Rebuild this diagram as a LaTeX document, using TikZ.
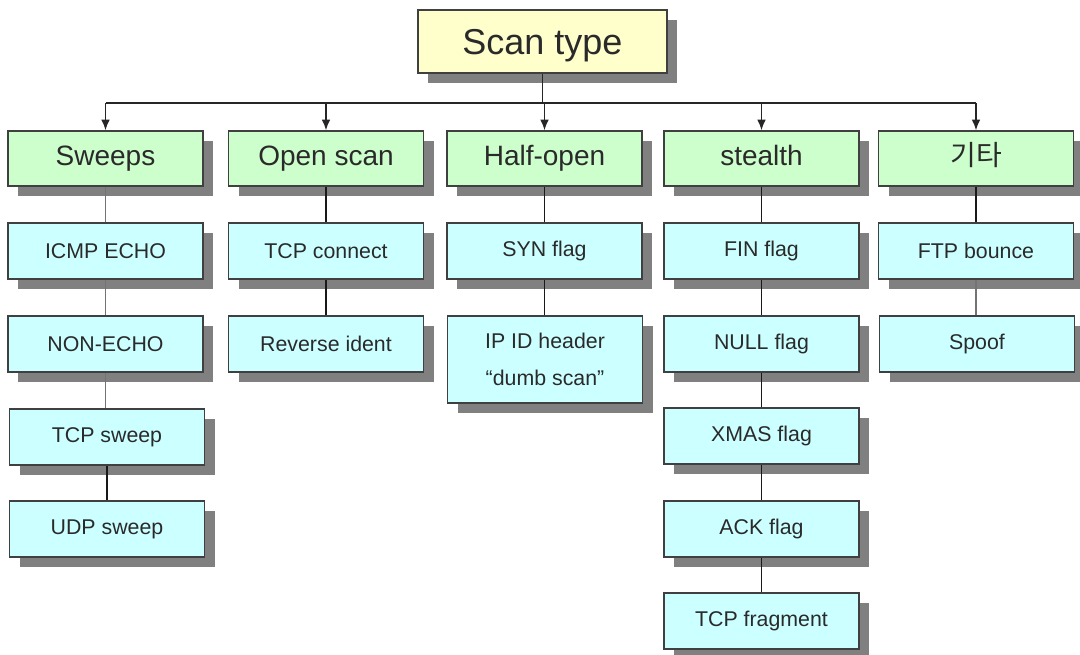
\documentclass[tikz,border=0pt]{standalone}
\usepackage{fontspec}
\setmainfont{Liberation Sans}
\newfontfamily\krfont{Noto Sans CJK KR}
\usetikzlibrary{shadows,arrows.meta}
\definecolor{topfill}{HTML}{FFFFCC}
\definecolor{greenfill}{HTML}{CCFFCC}
\definecolor{cyanfill}{HTML}{CCFFFF}
\definecolor{txt}{HTML}{2A2A2A}
\tikzset{
  basebox/.style={draw=black!75, line width=0.9pt, inner sep=0pt, text=txt,
    drop shadow={shadow xshift=7.5pt, shadow yshift=-7.5pt, opacity=1, fill=black!50}},
  topbox/.style={basebox, fill=topfill, minimum width=186.75pt, minimum height=47.25pt,
    font=\fontsize{27}{32}\selectfont, text height=21pt, text depth=2pt},
  catbox/.style={basebox, fill=greenfill, minimum width=146.25pt, minimum height=41.25pt,
    font=\fontsize{21}{25}\selectfont, text height=15pt, text depth=4.5pt},
  itembox/.style={basebox, fill=cyanfill, minimum width=146.25pt, minimum height=42pt,
    font=\fontsize{16}{28}\selectfont, align=center},
  link/.style={draw=black!90, line width=1pt},
  softlink/.style={draw=black!55, line width=1pt},
  bus/.style={draw=black!85, line width=1.3pt},
  arrowlink/.style={bus, -{Latex[length=8pt, width=6.5pt]}}
}
\begin{document}
\begin{tikzpicture}[x=0.75pt, y=-0.75pt]
\useasboundingbox (0,0) rectangle (1080,655);

% top
\node[topbox] (scan) at (542.5,41.5) {Scan type};

% categories
\node[catbox] (g1) at (105.5,158.5) {Sweeps};
\node[catbox] (g2) at (326,158.5) {Open scan};
\node[catbox] (g3) at (544.5,158.5) {Half-open};
\node[catbox] (g4) at (761.5,158.5) {stealth};
\node[catbox] (g5) at (976,158.5) {\krfont 기타};

% bus
\coordinate (b1) at (105.5,103);
\coordinate (b2) at (326,103);
\coordinate (b3) at (544.5,103);
\coordinate (b4) at (761.5,103);
\coordinate (b5) at (976,103);
\draw[bus] (b1) -- (b5);
\draw[bus] (scan.south) -- (scan.south |- b1);
\draw[arrowlink] (b1) -- (g1.north);
\draw[arrowlink] (b2) -- (g2.north);
\draw[arrowlink] (b3) -- (g3.north);
\draw[arrowlink] (b4) -- (g4.north);
\draw[arrowlink] (b5) -- (g5.north);

% column 1
\node[itembox] (c11) at (105.5,251) {ICMP ECHO};
\node[itembox] (c12) at (105.5,344) {NON-ECHO};
\node[itembox] (c13) at (107,437) {TCP sweep};
\node[itembox] (c14) at (107,529) {UDP sweep};
% column 2
\node[itembox] (c21) at (326,251) {TCP connect};
\node[itembox] (c22) at (326,344) {Reverse ident};
% column 3
\node[itembox] (c31) at (544.5,251) {SYN flag};
\node[itembox, minimum height=65.25pt] (c32) at (545,359.5) {IP ID header\\“dumb scan”};
% column 4
\node[itembox] (c41) at (761.5,251) {FIN flag};
\node[itembox] (c42) at (761.5,344) {NULL flag};
\node[itembox] (c43) at (761.5,436) {XMAS flag};
\node[itembox] (c44) at (761.5,529) {ACK flag};
\node[itembox] (c45) at (761.5,621) {TCP fragment};
% column 5
\node[itembox] (c51) at (976,251) {FTP bounce};
\node[itembox] (c52) at (977,344) {Spoof};

% connectors
\draw[softlink] (g1.south) -- (c11.north);
\draw[softlink] (c11.south) -- (c12.north);
\draw[softlink] (c12.south) -- (c12.south |- c13.north);
\draw[link] (c13.south) -- (c14.north);

\draw[link] (g2.south) -- (c21.north);
\draw[link] (c21.south) -- (c22.north);

\draw[link] (g3.south) -- (c31.north);
\draw[link] (c31.south) -- (c31.south |- c32.north);

\draw[link] (g4.south) -- (c41.north);
\draw[link] (c41.south) -- (c42.north);
\draw[link] (c42.south) -- (c43.north);
\draw[link] (c43.south) -- (c44.north);
\draw[link] (c44.south) -- (c45.north);

\draw[link] (g5.south) -- (c51.north);
\draw[softlink] (c51.south) -- (c51.south |- c52.north);
\end{tikzpicture}
\end{document}
